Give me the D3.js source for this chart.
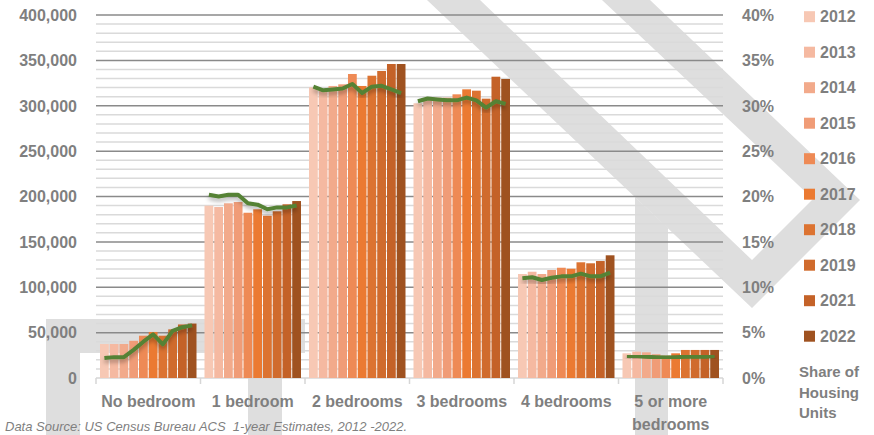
<!DOCTYPE html>
<html lang="en">

<head>
	<meta charset="utf-8">
	<title>Housing units by number of bedrooms</title>
	<script type="text/javascript" src="https://cdn.jsdelivr.net/npm/d3@7"></script>
	<style type="text/css">
		body {
			margin: 0;
			background: #ffffff;
		}
		text {
			font-family: "Liberation Sans", Arial, sans-serif;
			fill: #7f7f7f;
		}
	</style>
</head>

<body>
	<script type="text/javascript">

		var categories = ["No bedroom", "1 bedroom", "2 bedrooms", "3 bedrooms", "4 bedrooms", "5 or more bedrooms"];
		var years = ["2012", "2013", "2014", "2015", "2016", "2017", "2018", "2019", "2021", "2022"];

		// housing units, one array per bedroom category (same order as years)
		var noBedroom = [37500, 37500, 37500, 41000, 46600, 50700, 46600, 53600, 59000, 60000];
		var oneBedroom = [189900, 188400, 192500, 193900, 182100, 185900, 178800, 183700, 191400, 195000];
		var twoBedrooms = [320300, 318100, 321800, 323600, 335000, 321800, 333100, 338300, 346000, 346000];
		var threeBedrooms = [302700, 308200, 308900, 308900, 312600, 318100, 316600, 307800, 332000, 329500];
		var fourBedrooms = [114600, 117100, 114600, 119000, 121500, 120400, 127500, 126400, 128900, 135200];
		var fiveBedrooms = [27200, 29000, 28300, 26100, 24600, 27200, 30900, 30900, 30900, 30900];

		// share of housing units
		var shareNo = [0.022, 0.023, 0.023, 0.031, 0.040, 0.048, 0.037, 0.052, 0.056, 0.058];
		var shareOne = [0.202, 0.200, 0.202, 0.202, 0.1925, 0.191, 0.186, 0.188, 0.188, 0.190];
		var shareTwo = [0.321, 0.317, 0.318, 0.319, 0.324, 0.314, 0.321, 0.322, 0.318, 0.314];
		var shareThree = [0.305, 0.308, 0.307, 0.306, 0.306, 0.309, 0.306, 0.298, 0.305, 0.302];
		var shareFour = [0.110, 0.111, 0.108, 0.1105, 0.112, 0.112, 0.115, 0.112, 0.112, 0.116];
		var shareFive = [0.0242, 0.0242, 0.0235, 0.023, 0.0227, 0.023, 0.0235, 0.0235, 0.0235, 0.0242];

		var leftTicks = [0, 50000, 100000, 150000, 200000, 250000, 300000, 350000, 400000];
		var rightTicks = [0, 0.05, 0.10, 0.15, 0.20, 0.25, 0.30, 0.35, 0.40];

		var yearColors = ["#f7c8b4", "#f5b9a1", "#f2aa8b", "#f09c77", "#ee8a55", "#eb7a32", "#dc7331", "#d06b2d", "#c46228", "#9f5220"];
		var lineColor = "#548235";

		var units = [noBedroom, oneBedroom, twoBedrooms, threeBedrooms, fourBedrooms, fiveBedrooms];
		var shares = [shareNo, shareOne, shareTwo, shareThree, shareFour, shareFive];

		var w = 874;
		var h = 435;
		var plotLeft = 96, plotRight = 723, plotTop = 15, plotBottom = 378;

		var svg = d3.select("body")
			.append("svg")
			.attr("width", w)
			.attr("height", h);

		var defs = svg.append("defs");
		defs.append("filter")
			.attr("id", "shadow")
			.attr("x", "-10%").attr("y", "-50%")
			.attr("width", "120%").attr("height", "200%")
			.append("feDropShadow")
			.attr("dx", 0)
			.attr("dy", 3)
			.attr("stdDeviation", 2)
			.attr("flood-color", "#000")
			.attr("flood-opacity", 0.3);

		// faint watermark shapes in the background
		var marks = [
			[[427, 0], [752, 308], [860, 200], [650, 0], [602, 0], [813, 199], [752, 260], [480, 0]],
			[[635, 197], [668, 228], [668, 435], [635, 435]],
			[[46, 319], [305, 319], [305, 353], [282, 353], [282, 435], [248, 435], [248, 353], [80, 353], [80, 435], [46, 435]]
		];
		svg.append("g")
			.selectAll("polygon")
			.data(marks)
			.enter()
			.append("polygon")
			.attr("points", function(d){ return d.join(" "); })
			.attr("fill", "#dedede");

		// scales
		var x0 = d3.scaleBand()
			.domain(categories)
			.range([plotLeft, plotRight]);

		var x1 = d3.scaleBand()
			.domain(years)
			.range([4, x0.bandwidth() - 4])
			.paddingInner(0.1);

		var yLeft = d3.scaleLinear()
			.domain([0, 400000])
			.range([plotBottom, plotTop]);

		var yRight = d3.scaleLinear()
			.domain([0, 0.4])
			.range([plotBottom, plotTop]);

		var color = d3.scaleOrdinal()
			.domain(years)
			.range(yearColors);

		// minor gridlines every 10,000
		svg.append("g")
			.selectAll("line")
			.data(d3.range(10000, 400001, 10000).filter(function(d){ return d % 50000 !== 0; }))
			.enter()
			.append("line")
			.attr("x1", plotLeft)
			.attr("x2", plotRight)
			.attr("y1", function(d){ return yLeft(d); })
			.attr("y2", function(d){ return yLeft(d); })
			.attr("stroke", "#dadada")
			.attr("stroke-width", 1.5);

		// major gridlines
		svg.append("g")
			.selectAll("line")
			.data(leftTicks.slice(1))
			.enter()
			.append("line")
			.attr("x1", plotLeft)
			.attr("x2", plotRight)
			.attr("y1", function(d){ return yLeft(d); })
			.attr("y2", function(d){ return yLeft(d); })
			.attr("stroke", "#8a8a8a")
			.attr("stroke-width", 1.5);

		// x axis line + ticks at group boundaries
		svg.append("line")
			.attr("x1", plotLeft)
			.attr("x2", plotRight)
			.attr("y1", plotBottom)
			.attr("y2", plotBottom)
			.attr("stroke", "#d6d6d6")
			.attr("stroke-width", 1.5);

		svg.append("g")
			.selectAll("line")
			.data(categories.map(function(c){ return x0(c); }).concat([plotRight]))
			.enter()
			.append("line")
			.attr("x1", function(d){ return d; })
			.attr("x2", function(d){ return d; })
			.attr("y1", plotBottom)
			.attr("y2", plotBottom + 6)
			.attr("stroke", "#d6d6d6")
			.attr("stroke-width", 1.5);

		// bars
		var groups = svg.append("g")
			.selectAll("g")
			.data(categories)
			.enter()
			.append("g")
			.attr("transform", function(d){ return "translate(" + x0(d) + ",0)"; });

		groups.selectAll("rect")
			.data(function(d, i){
				return years.map(function(y, j){ return {year: y, value: units[i][j]}; });
			})
			.enter()
			.append("rect")
			.attr("x", function(d){ return x1(d.year); })
			.attr("y", function(d){ return yLeft(d.value); })
			.attr("width", x1.bandwidth())
			.attr("height", function(d){ return plotBottom - yLeft(d.value); })
			.attr("fill", function(d){ return color(d.year); });

		// share line, one run per category
		var line = d3.line()
			.x(function(d){ return x1(d.year) + x1.bandwidth() / 2; })
			.y(function(d){ return yRight(d.value); });

		groups.append("path")
			.attr("d", function(d, i){
				return line(years.map(function(y, j){ return {year: y, value: shares[i][j]}; }));
			})
			.attr("fill", "none")
			.attr("stroke", lineColor)
			.attr("stroke-width", 4)
			.attr("stroke-linejoin", "round")
			.attr("filter", "url(#shadow)");

		// left axis labels
		svg.append("g")
			.selectAll("text")
			.data(leftTicks)
			.enter()
			.append("text")
			.attr("x", 77)
			.attr("y", function(d){ return yLeft(d); })
			.attr("dy", "0.36em")
			.attr("text-anchor", "end")
			.attr("font-size", "16px")
			.attr("font-weight", "bold")
			.text(function(d){ return d3.format(",")(d); });

		// right axis labels
		svg.append("g")
			.selectAll("text")
			.data(rightTicks)
			.enter()
			.append("text")
			.attr("x", 742)
			.attr("y", function(d){ return yRight(d); })
			.attr("dy", "0.36em")
			.attr("font-size", "16px")
			.attr("font-weight", "bold")
			.text(function(d){ return d3.format(".0%")(d); });

		// category labels, wrapped when wider than the band
		var catLabels = svg.append("g")
			.selectAll("text")
			.data(categories)
			.enter()
			.append("text")
			.attr("x", function(d){ return x0(d) + x0.bandwidth() / 2; })
			.attr("y", 407)
			.attr("text-anchor", "middle")
			.attr("font-size", "16px")
			.attr("font-weight", "bold");

		catLabels.each(function(d){
			var el = d3.select(this);
			var words = d.split(" ");
			var lines = [], cur = [];
			el.text(d);
			if (this.getComputedTextLength() > x0.bandwidth() - 6) {
				el.text(null);
				var probe = el.append("tspan");
				words.forEach(function(word){
					probe.text(cur.concat([word]).join(" "));
					if (cur.length && probe.node().getComputedTextLength() > x0.bandwidth() - 30) {
						lines.push(cur.join(" "));
						cur = [word];
					} else {
						cur.push(word);
					}
				});
				lines.push(cur.join(" "));
				probe.remove();
				lines.forEach(function(t, k){
					el.append("tspan")
						.attr("x", x0(d) + x0.bandwidth() / 2)
						.attr("dy", k === 0 ? 0 : 23)
						.text(t);
				});
			}
		});

		// legend
		var legend = svg.append("g")
			.selectAll("g")
			.data(years)
			.enter()
			.append("g")
			.attr("transform", function(d, i){ return "translate(804," + (16.7 + i * 35.5) + ")"; });

		legend.append("rect")
			.attr("x", 0)
			.attr("y", -5.5)
			.attr("width", 11)
			.attr("height", 11)
			.attr("fill", function(d){ return color(d); });

		legend.append("text")
			.attr("x", 16)
			.attr("y", 0)
			.attr("dy", "0.36em")
			.attr("font-size", "16px")
			.attr("font-weight", "bold")
			.text(function(d){ return d; });

		svg.append("line")
			.attr("x1", 813)
			.attr("x2", 840)
			.attr("y1", 352)
			.attr("y2", 352)
			.attr("stroke", lineColor)
			.attr("stroke-width", 4)
			.attr("filter", "url(#shadow)");

		svg.append("g")
			.selectAll("text")
			.data(["Share of", "Housing", "Units"])
			.enter()
			.append("text")
			.attr("x", 799)
			.attr("y", function(d, i){ return 377 + i * 20.5; })
			.attr("font-size", "15px")
			.attr("font-weight", "bold")
			.text(function(d){ return d; });

		// source note
		svg.append("text")
			.attr("x", 5)
			.attr("y", 431)
			.attr("font-size", "13px")
			.attr("font-style", "italic")
			.attr("xml:space", "preserve")
			.style("white-space", "pre")
			.text("Data Source: US Census Bureau ACS  1-year Estimates, 2012 -2022.");

	</script>
</body>

</html>
